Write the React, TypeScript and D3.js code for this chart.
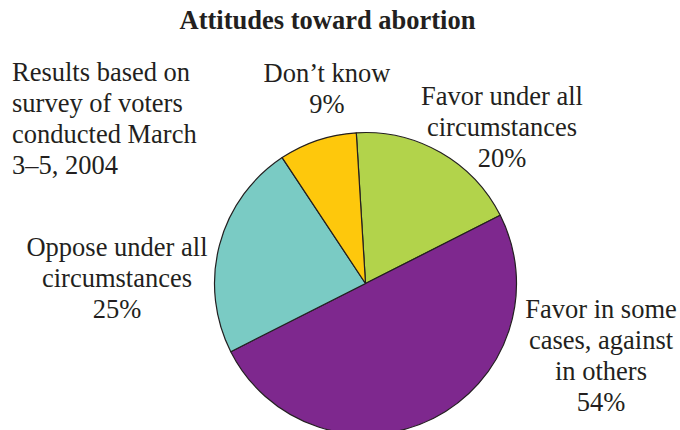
import React from "react";
import * as d3 from "d3";

const categories = ["Favor under all circumstances", "Favor in some cases, against in others", "Oppose under all circumstances", "Don’t know"];
const values = [20, 54, 25, 9];
const colors = ["#b2d34b", "#7e288e", "#7acbc4", "#fec80c"];
const labelLines = [
  ["Favor under all", "circumstances", "20%"],
  ["Favor in some", "cases, against", "in others", "54%"],
  ["Oppose under all", "circumstances", "25%"],
  ["Don’t know", "9%"],
];
const noteLines = ["Results based on", "survey of voters", "conducted March", "3–5, 2004"];
const title = "Attitudes toward abortion";

const W = 680, H = 430;
const cx = 365.5, cy = 283.5, R = 151;
const FS = 26.5;
const LH = 31;
const labelPos = [
  { x: 502, y: 105 },
  { x: 601, y: 318 },
  { x: 117, y: 256 },
  { x: 327, y: 81.5 },
];

export default function App() {
  const start = (-3.5 * Math.PI) / 180;
  const pie = d3.pie<number>().sort(null).value((d) => d).startAngle(start).endAngle(start + 2 * Math.PI);
  const arcs = pie(values);
  const arc = d3.arc<d3.PieArcDatum<number>>().innerRadius(0).outerRadius(R);
  const ink = "#231f20";
  const ts = { fontFamily: `"Liberation Serif"`, fontSize: FS + "px" };
  return (
    <svg width={W} height={H} style={{ position: "absolute", left: 0, top: 0, background: "#fff" }}>
      <text x={327.5} y={28.5} textAnchor="middle" style={ts} fontWeight="bold" fill={ink}>
        {title}
      </text>
      <g transform={`translate(${cx},${cy})`}>
        {arcs.map((a, i) => (
          <path key={categories[i]} d={arc(a) || ""} fill={colors[i]} stroke={ink} strokeWidth={1.2} strokeLinejoin="round" />
        ))}
      </g>
      {noteLines.map((t, i) => (
        <text key={t} x={12} y={80.5 + i * LH} style={ts} fill={ink}>
          {t}
        </text>
      ))}
      {labelLines.map((lines, i) =>
        lines.map((t, j) => (
          <text key={i + "-" + j} x={labelPos[i].x} y={labelPos[i].y + j * LH} textAnchor="middle" style={ts} fill={ink}>
            {t}
          </text>
        ))
      )}
    </svg>
  );
}
